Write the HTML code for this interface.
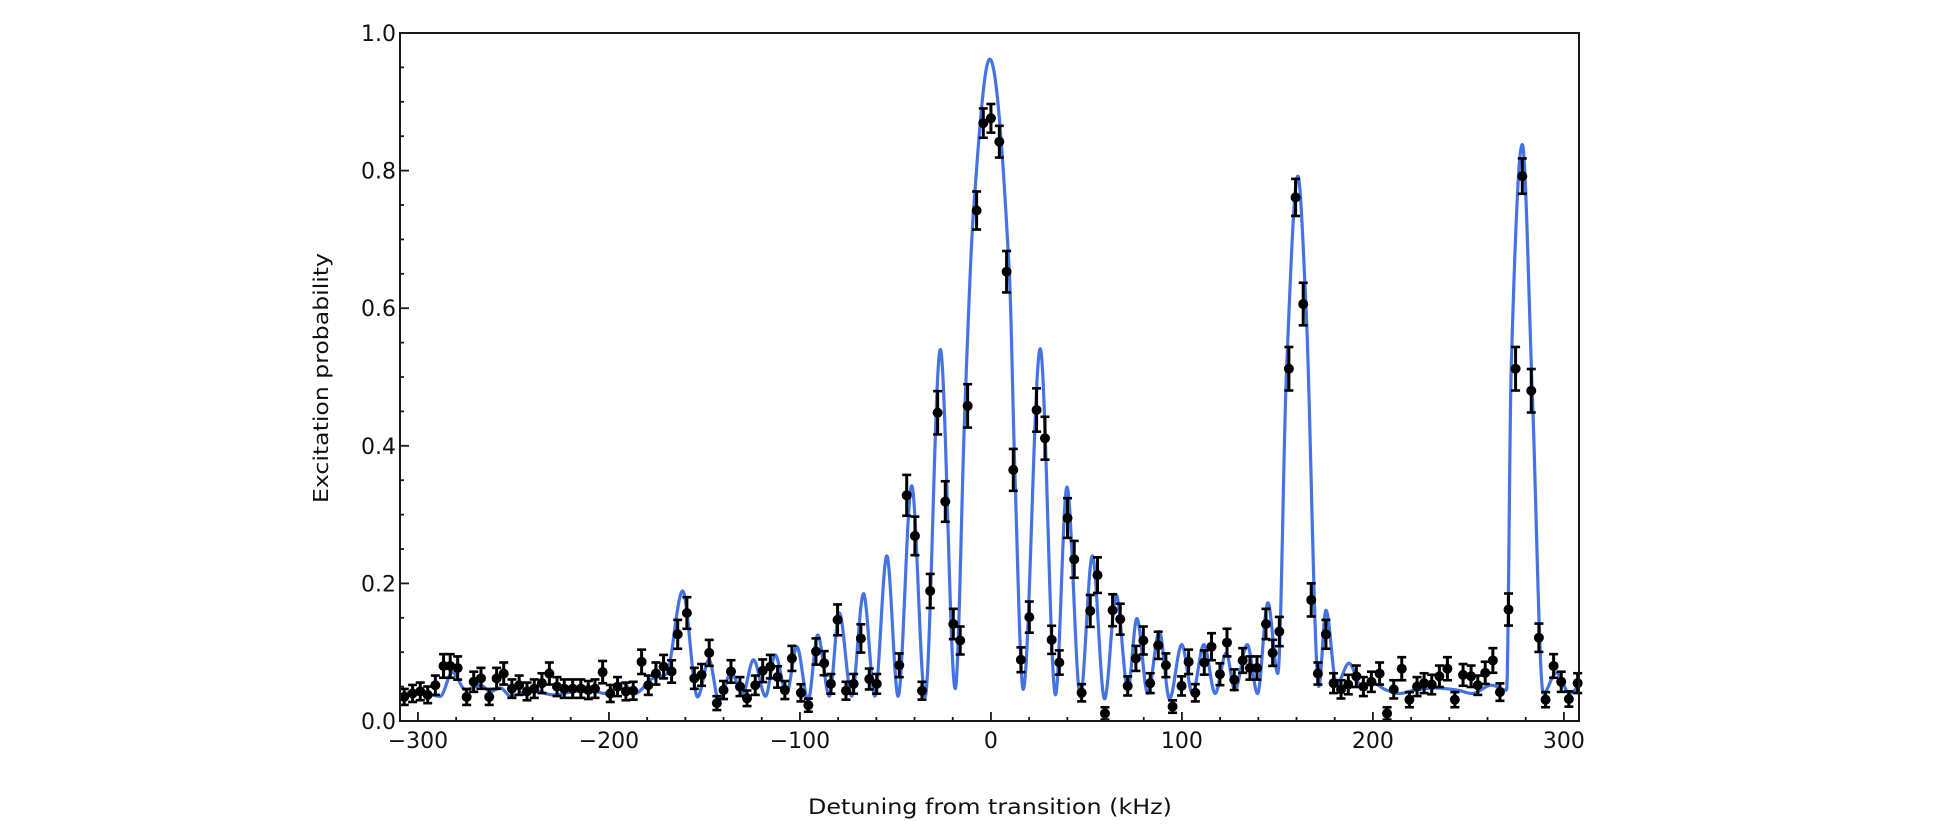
<!DOCTYPE html>
<html><head><meta charset="utf-8"><title>Excitation spectrum</title>
<style>html,body{margin:0;padding:0;background:#fff;}svg{display:block;}</style></head>
<body>
<svg id="chart" width="1934" height="824" viewBox="0 0 1934 824" xmlns="http://www.w3.org/2000/svg" font-family="'DejaVu Sans', 'Liberation Sans', sans-serif">
  <rect x="400" y="33" width="1179" height="688" fill="#fff"/>
  <g id="fit"></g>
  <g id="pts"></g>
  <g id="axes"></g>
  <rect x="400" y="33" width="1179" height="688" fill="none" stroke="#1a1a1a" stroke-width="2"/>
  <text x="0" y="0" transform="translate(328,378) rotate(-90)" text-anchor="middle" font-size="20" textLength="250" lengthAdjust="spacingAndGlyphs" fill="#111">Excitation probability</text>
  <text x="990" y="814" text-anchor="middle" font-size="21" textLength="364" lengthAdjust="spacingAndGlyphs" fill="#111">Detuning from transition (kHz)</text>
</svg>
<script>
// ---- data ----
const xTicks = [-300, -200, -100, 0, 100, 200, 300];
const xTickLabels = ['\u2212300', '\u2212200', '\u2212100', '0', '100', '200', '300'];
const yTicks = [0, 0.2, 0.4, 0.6, 0.8, 1.0];
const yTickLabels = ['0.0', '0.2', '0.4', '0.6', '0.8', '1.0'];
const fitDetuning = [-310,-300,-288.3,-282,-275,-267.3,-262,-256.8,-251.5,-241,-229,-218,-210,-202,-192.6,-186.5,-177,-170,-161.4,-153.6,-147.6,-142.5,-136,-130,-124.3,-118,-113,-107,-101.6,-95.7,-90.7,-84.6,-79.4,-72.9,-66.7,-60.8,-54.5,-48.6,-41.5,-34.5,-26.5,-18.7,-13.6,-9.1,-0.6,9.6,12.5,16.9,25.8,33.8,39.8,46.8,53.1,59.5,65.6,71.7,76.4,82.1,88.2,93.5,99.9,105.5,111.5,117.4,123.2,127.7,134.2,139.6,145,150.2,154.8,160.7,164.9,171.7,175.4,181,187.5,194,200,207,214,222,232,244,252,262,270,272.4,278.2,283.4,289.2,296,303,310];
const fitProb = [0.038,0.043,0.036,0.071,0.045,0.052,0.043,0.048,0.036,0.045,0.038,0.043,0.045,0.040,0.055,0.040,0.062,0.068,0.189,0.035,0.089,0.030,0.070,0.040,0.089,0.036,0.096,0.040,0.108,0.030,0.125,0.036,0.157,0.036,0.185,0.036,0.240,0.036,0.342,0.035,0.540,0.047,0.458,0.742,0.962,0.653,0.365,0.046,0.541,0.038,0.340,0.035,0.240,0.032,0.183,0.046,0.149,0.040,0.130,0.032,0.111,0.040,0.111,0.040,0.099,0.045,0.111,0.040,0.172,0.069,0.512,0.792,0.606,0.050,0.161,0.053,0.084,0.050,0.055,0.045,0.040,0.045,0.048,0.045,0.040,0.052,0.045,0.512,0.838,0.480,0.040,0.070,0.040,0.060];
const dataDetuning = [-307.2,-302.8,-298.8,-294.9,-290.9,-286.6,-283.1,-279.2,-274.5,-270.8,-267,-262.7,-258.8,-255.1,-250.8,-247,-242.9,-239.1,-235.1,-231.2,-227.2,-223.4,-219,-214.7,-210.8,-207.3,-203.3,-199.3,-195.5,-191.1,-187.3,-182.9,-179.4,-175.4,-171.4,-167.2,-164,-159.2,-155.3,-151.5,-147.5,-143.5,-140,-136.1,-131.4,-127.7,-123.4,-119.5,-115.5,-111.7,-107.9,-104.2,-99.5,-95.6,-91.6,-87.3,-83.8,-80.3,-75.9,-71.9,-68.1,-63.7,-59.8,-48,-44.1,-39.8,-36.1,-31.8,-27.9,-23.9,-19.7,-16.1,-12.2,-7.5,-4.0,0,4.4,8.2,11.7,15.7,20.1,23.9,28.3,31.8,35.8,40.1,43.6,47.5,52,55.8,59.7,63.7,67.7,71.6,75.9,79.8,83.4,87.6,91.6,95.1,99.8,103.5,107,111.7,115.5,119.9,123.6,127.4,131.8,135.6,139.3,144,147.5,151,156,159.5,163.5,167.7,171.2,175.4,179.4,183.3,187.1,191.3,195,199.2,203.5,207.4,210.9,215.1,219.1,223.1,226.8,230.8,234.8,239,242.9,247.2,251.4,254.9,258.8,262.8,266.5,271,274.7,278.2,282.9,286.9,290.4,294.6,298.6,302.6,307.2];
const dataProb = [0.035,0.040,0.043,0.038,0.052,0.080,0.080,0.077,0.035,0.057,0.062,0.035,0.062,0.069,0.047,0.052,0.043,0.047,0.055,0.069,0.050,0.047,0.047,0.047,0.045,0.047,0.071,0.040,0.050,0.043,0.044,0.086,0.052,0.069,0.079,0.072,0.126,0.157,0.062,0.067,0.099,0.026,0.045,0.072,0.050,0.033,0.052,0.073,0.079,0.064,0.045,0.091,0.041,0.023,0.101,0.084,0.054,0.147,0.044,0.054,0.120,0.061,0.054,0.081,0.328,0.269,0.044,0.189,0.448,0.319,0.141,0.117,0.458,0.742,0.869,0.876,0.842,0.653,0.365,0.089,0.151,0.452,0.411,0.118,0.085,0.295,0.235,0.041,0.160,0.212,0.011,0.161,0.148,0.051,0.091,0.117,0.055,0.110,0.081,0.021,0.051,0.086,0.041,0.085,0.108,0.068,0.114,0.060,0.088,0.077,0.077,0.141,0.099,0.130,0.512,0.761,0.606,0.176,0.069,0.126,0.055,0.046,0.053,0.065,0.050,0.057,0.069,0.011,0.046,0.076,0.031,0.050,0.055,0.053,0.065,0.076,0.031,0.067,0.065,0.052,0.070,0.088,0.042,0.162,0.512,0.792,0.480,0.121,0.031,0.080,0.057,0.032,0.055];
const shotsPerPoint = 250;

// ---- axes ----
const X0 = 400, X1 = 1579, Y0 = 721, Y1 = 33;
const xMin = -309.4, xMax = 307.9, yMin = 0, yMax = 1;
function sx(k) { return X0 + (k - xMin) / (xMax - xMin) * (X1 - X0); }
function sy(p) { return Y0 - (p - yMin) / (yMax - yMin) * (Y0 - Y1); }
const NS = 'http://www.w3.org/2000/svg';
function mk(tag, attrs, parent) {
  const el = document.createElementNS(NS, tag);
  for (const a in attrs) el.setAttribute(a, attrs[a]);
  parent.appendChild(el);
  return el;
}
const axes = document.getElementById('axes');
for (let k = -300; k <= 300; k += 20) {
  const major = k % 100 === 0;
  const t = mk('line', {x1: sx(k), x2: sx(k), y1: Y0, y2: Y0 - (major ? 9 : 4), stroke: '#1a1a1a', 'stroke-width': 1.8}, axes);
  
  
}
xTicks.forEach((k, i) => {
  const t = mk('text', {x: sx(k), y: 748, 'text-anchor': 'middle', 'font-size': 22, fill: '#111'}, axes);
  t.textContent = xTickLabels[i];
  
  
});
for (let i = 0; i <= 20; i++) {
  const p = i * 0.05;
  const major = i % 4 === 0;
  const t = mk('line', {x1: X0, x2: X0 + (major ? 9 : 4), y1: sy(p), y2: sy(p), stroke: '#1a1a1a', 'stroke-width': 1.8}, axes);
  
  
}
yTicks.forEach((p, i) => {
  const t = mk('text', {x: 396, y: sy(p) + 8, 'text-anchor': 'end', 'font-size': 22, fill: '#111'}, axes);
  t.textContent = yTickLabels[i];
  
  
});

// ---- fit curve: monotone cubic (PCHIP) through digitised nodes ----
function pchip(xs, ys) {
  const n = xs.length, h = [], d = [], m = new Array(n).fill(0);
  for (let i = 0; i < n - 1; i++) { h[i] = xs[i+1] - xs[i]; d[i] = (ys[i+1] - ys[i]) / h[i]; }
  m[0] = d[0]; m[n-1] = d[n-2];
  for (let i = 1; i < n - 1; i++) {
    if (d[i-1] * d[i] <= 0) m[i] = 0;
    else { const w1 = 2*h[i] + h[i-1], w2 = h[i] + 2*h[i-1]; m[i] = (w1 + w2) / (w1 / d[i-1] + w2 / d[i]); }
  }
  return function (x) {
    let i = 0;
    while (i < n - 2 && x > xs[i+1]) i++;
    const t = (x - xs[i]) / h[i], t2 = t*t, t3 = t2*t;
    return (2*t3 - 3*t2 + 1)*ys[i] + (t3 - 2*t2 + t)*h[i]*m[i] + (-2*t3 + 3*t2)*ys[i+1] + (t3 - t2)*h[i]*m[i+1];
  };
}
const fitFn = pchip(fitDetuning, fitProb);
let dStr = '';
const kStart = Math.max(xMin, fitDetuning[0]), kEnd = Math.min(xMax, fitDetuning[fitDetuning.length - 1]);
for (let k = kStart; k <= kEnd; k += 0.25) {
  dStr += (dStr ? 'L' : 'M') + sx(k).toFixed(2) + ',' + sy(fitFn(k)).toFixed(2);
}
const fitPath = mk('path', {d: dStr, fill: 'none', stroke: '#4573e3', 'stroke-width': 3.2, 'stroke-linejoin': 'round'}, document.getElementById('fit'));



// ---- data points with error bars ----
const pts = document.getElementById('pts');
dataDetuning.forEach((k, i) => {
  const p = dataProb[i];
  const err = Math.sqrt(Math.max(p * (1 - p), 0.02) / shotsPerPoint);
  const g = mk('g', {}, pts);
  
  
  const x = sx(k), yt = sy(p + err), yb = sy(p - err);
  mk('line', {x1: x, x2: x, y1: yt, y2: yb, stroke: '#000', 'stroke-width': 3}, g);
  mk('line', {x1: x - 4.5, x2: x + 4.5, y1: yt, y2: yt, stroke: '#000', 'stroke-width': 2.6}, g);
  mk('line', {x1: x - 4.5, x2: x + 4.5, y1: yb, y2: yb, stroke: '#000', 'stroke-width': 2.6}, g);
  mk('circle', {cx: x, cy: sy(p), r: 5, fill: '#000'}, g);
});
</script>
</body></html>
